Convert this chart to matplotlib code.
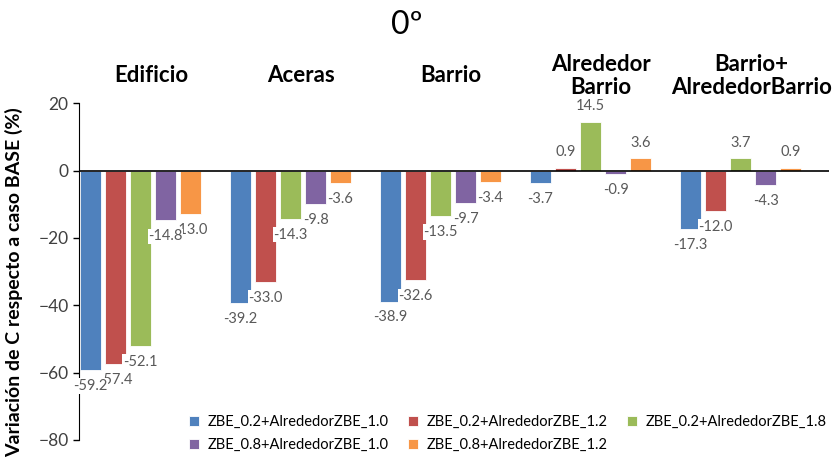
import numpy as np
import matplotlib.pyplot as plt
import matplotlib.transforms as mtransforms

plt.rcParams['font.family'] = ['Lato', 'DejaVu Sans']

# Data
categories = ['Edificio', 'Aceras', 'Barrio', 'Alrededor\nBarrio', 'Barrio+\nAlrededorBarrio']
series_names = ['ZBE_0.2+AlrededorZBE_1.0', 'ZBE_0.2+AlrededorZBE_1.2', 'ZBE_0.2+AlrededorZBE_1.8',
                'ZBE_0.8+AlrededorZBE_1.0', 'ZBE_0.8+AlrededorZBE_1.2']
zbe02_alr10 = [-59.2, -39.2, -38.9, -3.7, -17.3]
zbe02_alr12 = [-57.4, -33.0, -32.6, 0.9, -12.0]
zbe02_alr18 = [-52.1, -14.3, -13.5, 14.5, 3.7]
zbe08_alr10 = [-14.8, -9.8, -9.7, -0.9, -4.3]
zbe08_alr12 = [-13.0, -3.6, -3.4, 3.6, 0.9]
all_series = [zbe02_alr10, zbe02_alr12, zbe02_alr18, zbe08_alr10, zbe08_alr12]
colors = ['#4F81BD', '#C0504D', '#9BBB59', '#8064A2', '#F79646']

fig = plt.figure(figsize=(8.4, 4.65), dpi=100)
ax = fig.add_axes([0.094, 0.054, 0.893, 0.724])

x = np.arange(len(categories))
pitch = 0.1667
width = 0.137
handles = []
for j in range(len(all_series)):
    xs = x + (j - 2) * pitch
    b = ax.bar(xs, all_series[j], width=width, color=colors[j], edgecolor='white',
               linewidth=0.6, label=series_names[j], zorder=2)
    handles.append(b)
    # earlier series labels sit on top, like in the original chart
    for xi, v in zip(xs, all_series[j]):
        off = 11 if v >= 0 else -11.5
        ax.annotate('%.1f' % v, (xi, v), xytext=(0, off), textcoords='offset points',
                    ha='center', va='center', fontsize=10.5, color='#595959', zorder=10 - j,
                    bbox=dict(boxstyle='square,pad=0.05', fc='white', ec='none'))

ax.set_xlim(-0.41, 4.59)
ax.set_ylim(-80, 20)
ax.set_yticks([-80, -60, -40, -20, 0, 20])
ax.tick_params(axis='y', labelsize=12.5, labelcolor='#404040', length=4, width=1, direction='out')
ax.set_xticks([])
for s in ['top', 'right', 'bottom']:
    ax.spines[s].set_visible(False)
ax.spines['left'].set_color('black')
ax.axhline(0, color='black', lw=1.2, zorder=4)

ax.set_ylabel('Variación de C respecto a caso BASE (%)', fontsize=14, fontweight='bold')
ax.yaxis.set_label_coords(-0.074, 0.47)

# Category titles above the plot
trans = mtransforms.blended_transform_factory(ax.transData, fig.transFigure)
for xi, cat in zip(x, categories):
    ax.text(xi + 0.07, 1 - 76 / 465, cat, transform=trans, ha='center', va='center',
            fontsize=16, fontweight='bold', linespacing=1.12)

fig.text(0.484, 1 - 25 / 465, '0º', ha='center', va='center', fontsize=23)

order = [0, 3, 1, 4, 2]
fig.legend([handles[i] for i in order], [series_names[i] for i in order], ncol=3,
           loc='center left', bbox_to_anchor=(0.216, 0.068), frameon=False, fontsize=10.5,
           handlelength=0.7, handleheight=0.7, handletextpad=0.6, columnspacing=1.3,
           labelspacing=0.6, borderpad=0)

plt.savefig('out.png', dpi=100)
